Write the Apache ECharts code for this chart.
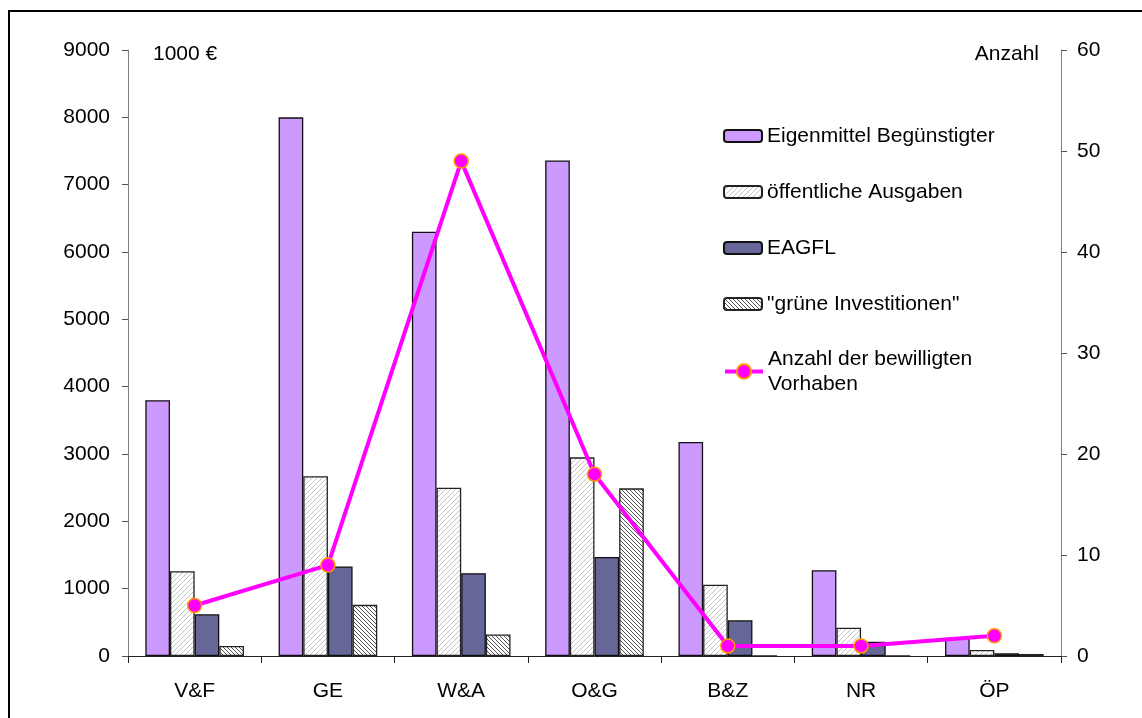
<!DOCTYPE html>
<html>
<head>
<meta charset="utf-8">
<script src="https://cdn.jsdelivr.net/npm/echarts@6/dist/echarts.min.js"></script>
<style>
html,body{margin:0;padding:0;background:#fff;}
#chart{width:1142px;height:718px;}
</style>
</head>
<body>
<div id="chart"></div>
<script>
const categories = ['V&F', 'GE', 'W&A', 'O&G', 'B&Z', 'NR', 'ÖP'];
const eigenmittel = [3800, 8000, 6300, 7360, 3180, 1275, 270];
const oeffentlich = [1260, 2670, 2500, 2950, 1060, 420, 90];
const eagfl = [620, 1330, 1230, 1470, 530, 210, 40];
const gruen = [150, 760, 320, 2490, 0, 0, 30];
const anzahl = [5, 9, 49, 18, 1, 1, 2];
const leftTicks = ['0','1000','2000','3000','4000','5000','6000','7000','8000','9000'];
const rightTicks = ['0','10','20','30','40','50','60'];

function hatch(dir, color, size, lw) {
  const c = document.createElement('canvas');
  c.width = size; c.height = size;
  const g = c.getContext('2d');
  g.fillStyle = '#fff';
  g.fillRect(0, 0, size, size);
  g.strokeStyle = color;
  g.lineWidth = lw;
  g.beginPath();
  if (dir === '/') {
    g.moveTo(-1, size + 1); g.lineTo(size + 1, -1);
    g.moveTo(-1, 1); g.lineTo(1, -1);
    g.moveTo(size - 1, size + 1); g.lineTo(size + 1, size - 1);
  } else {
    g.moveTo(-1, -1); g.lineTo(size + 1, size + 1);
    g.moveTo(size - 1, -1); g.lineTo(size + 1, 1);
    g.moveTo(-1, size - 1); g.lineTo(1, size + 1);
  }
  g.stroke();
  return { image: c, repeat: 'repeat' };
}

const font = 'Liberation Sans, Arial, sans-serif';
const FS = 21;
const chart = echarts.init(document.getElementById('chart'), null, { renderer: 'canvas' });

const barBase = { type: 'bar', barGap: '0%', barCategoryGap: '26%', yAxisIndex: 0 };

chart.setOption({
  animation: false,
  backgroundColor: '#fff',
  textStyle: { fontFamily: font },
  grid: { left: 128, right: 81, top: 50, bottom: 62, containLabel: false },
  legend: [{
    orient: 'vertical', left: 723, top: 124, padding: 0,
    itemWidth: 38, itemHeight: 12, itemGap: 32,
    textStyle: { fontFamily: font, fontSize: FS, color: '#000', lineHeight: 24 },
    data: ['Eigenmittel Begünstigter', 'öffentliche Ausgaben', 'EAGFL', '"grüne Investitionen"']
  }, {
    orient: 'vertical', left: 723, top: 334, padding: 0,
    itemWidth: 38, itemHeight: 18,
    lineStyle: { width: 4 },
    textStyle: { fontFamily: font, fontSize: FS, color: '#000', lineHeight: 25, padding: [25, 0, 0, 0] },
    data: ['Anzahl der bewilligten\nVorhaben']
  }],
  xAxis: {
    type: 'category', data: categories,
    axisLine: { lineStyle: { color: '#222', width: 1 } },
    axisTick: { show: true, alignWithLabel: false, length: 7, lineStyle: { color: '#222' } },
    axisLabel: { fontFamily: font, fontSize: FS, color: '#000', margin: 25 },
    splitLine: { show: false }
  },
  yAxis: [{
    type: 'value', min: 0, max: 9000, interval: 1000, position: 'left',
    axisLine: { show: true, lineStyle: { color: '#808080' } },
    axisTick: { show: true, length: 6, lineStyle: { color: '#555' } },
    axisLabel: { fontFamily: font, fontSize: FS, color: '#000', margin: 18,
      formatter: function (v) { return leftTicks[Math.round(v / 1000)]; } },
    splitLine: { show: false }
  }, {
    type: 'value', min: 0, max: 60, interval: 10, position: 'right',
    axisLine: { show: true, lineStyle: { color: '#808080' } },
    axisTick: { show: true, length: 6, lineStyle: { color: '#555' } },
    axisLabel: { fontFamily: font, fontSize: FS, color: '#000', margin: 16,
      formatter: function (v) { return rightTicks[Math.round(v / 10)]; } },
    splitLine: { show: false }
  }],
  graphic: [
    { type: 'rect', shape: { x: 9, y: 11, width: 1200, height: 800 },
      style: { fill: 'none', stroke: '#000', lineWidth: 2 }, silent: true },
    { type: 'text', x: 153, y: 54, style: { text: '1000 €', font: FS + 'px ' + font, fill: '#000', align: 'left', verticalAlign: 'middle' } },
    { type: 'text', x: 1039, y: 54, style: { text: 'Anzahl', font: FS + 'px ' + font, fill: '#000', align: 'right', verticalAlign: 'middle' } }
  ],
  series: [
    Object.assign({}, barBase, { name: 'Eigenmittel Begünstigter', data: eigenmittel,
      itemStyle: { color: '#CC99FF', borderColor: '#111', borderWidth: 1.3 } }),
    Object.assign({}, barBase, { name: 'öffentliche Ausgaben', data: oeffentlich,
      itemStyle: { color: hatch('/', '#c4c4c4', 5, 1), borderColor: '#222', borderWidth: 1.3 } }),
    Object.assign({}, barBase, { name: 'EAGFL', data: eagfl,
      itemStyle: { color: '#666699', borderColor: '#111', borderWidth: 1.3 } }),
    Object.assign({}, barBase, { name: '"grüne Investitionen"', data: gruen,
      itemStyle: { color: hatch('\\', '#555', 4, 1), borderColor: '#222', borderWidth: 1.3 } }),
    { type: 'line', name: 'Anzahl der bewilligten\nVorhaben', yAxisIndex: 1, data: anzahl,
      z: 5, symbol: 'circle', symbolSize: 14,
      lineStyle: { color: '#FF00FF', width: 4 },
      itemStyle: { color: '#FF00FF', borderColor: '#FF9900', borderWidth: 1.5 } }
  ]
});
</script>
</body>
</html>
